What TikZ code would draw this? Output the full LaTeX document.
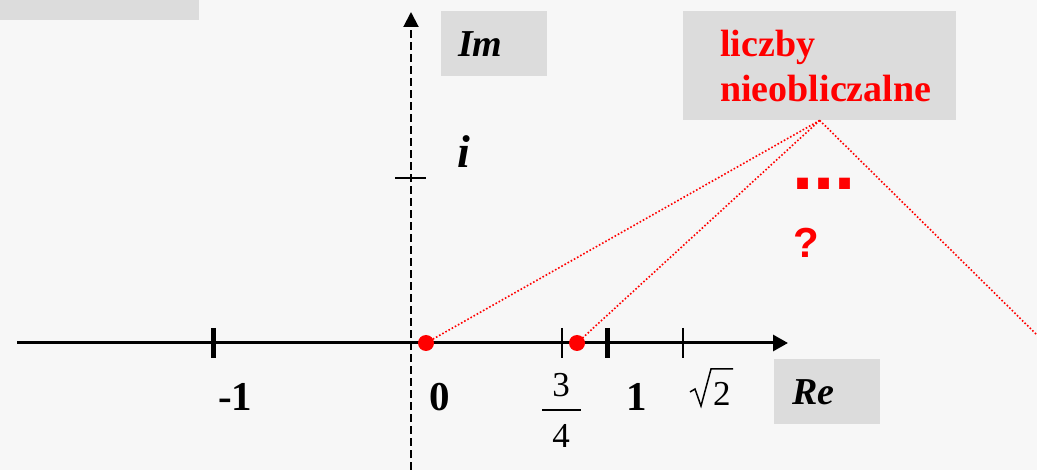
\documentclass[tikz,border=0pt]{standalone}
\usepackage{fontspec}
\setmainfont{Liberation Serif}
\newfontfamily\arialbf{Liberation Sans}[BoldFont={* Bold}]
\usetikzlibrary{arrows.meta}
\definecolor{bgc}{HTML}{F7F7F7}
\definecolor{boxc}{HTML}{DCDCDC}
\definecolor{redc}{HTML}{FF0000}
\tikzset{
  graybox/.style={fill=boxc, draw=none},
  lbl/.style={inner sep=0pt, anchor=base west},
  bigbi/.style={font=\fontsize{38}{44}\selectfont\bfseries\itshape},
  numb/.style={font=\fontsize{41}{44}\selectfont\bfseries},
  numr/.style={font=\fontsize{35}{40}\selectfont},
  reddot/.style={circle, fill=redc, inner sep=0pt, minimum size=16pt},
  redlink/.style={redc, dotted, line width=1.6pt},
  thicktick/.style={line width=5pt},
  thintick/.style={line width=2pt},
}
\begin{document}
\begin{tikzpicture}[x=1pt,y=-1pt]
\useasboundingbox (0,0) rectangle (1037,470);
\fill[bgc] (0,0) rectangle (1037,470);
% top-left clipped box
\fill[boxc] (0,0) rectangle (199,20);
% Im and Re boxes
\node[graybox, minimum width=106pt, minimum height=65pt, inner sep=0pt, anchor=north west] (imbox) at (441,11) {};
\node[lbl, bigbi] (im) at (458,57) {Im};
\node[graybox, minimum width=106pt, minimum height=65pt, inner sep=0pt, anchor=north west] (rebox) at (774,359) {};
\node[lbl, bigbi] (re) at (792,405) {Re};
% red label box
\node[graybox, minimum width=273pt, minimum height=109pt, inner sep=0pt, anchor=north west] (lbox) at (683,11) {};
\node[lbl, redc, font=\fontsize{38}{45}\selectfont\bfseries] (t1) at (720,57) {liczby};
\node[lbl, redc, font=\fontsize{38}{45}\selectfont\bfseries] (t2) at (720,102) {nieobliczalne};
% axes
\draw[line width=3pt, -{Triangle[length=15pt,width=16pt]}] (17,343) coordinate (xs) -- (788,343) coordinate (xe);
\draw[line width=2pt, dash pattern=on 8pt off 4pt, -{Triangle[length=15pt,width=15pt]}] (411,470) coordinate (ys) -- (411,12) coordinate (ye);
% ticks
\draw[thicktick] (213,328) -- (213,358);
\draw[thintick] (562,328) -- (562,358);
\draw[thicktick] (607,328) -- (607,358);
\draw[thintick] (683,328) -- (683,358);
\draw[thintick] (395,178) -- (426,178);
% labels
\node[lbl, numb] (m1) at (218,410) {-1};
\node[lbl, numb] (z0) at (429,410) {0};
\node[lbl, numb] (one) at (626,411) {1};
\node[inner sep=0pt, anchor=base, numr] (n3) at (561,397) {3};
\node[inner sep=0pt, anchor=base, numr] (n4) at (561,448) {4};
\draw[line width=1.5pt] (542,410) -- (581,410);
\node[lbl, numr] (two) at (713,406) {2};
\draw[line width=1.5pt, line join=miter] (690,392) -- (695,389) -- (701,406) -- (711,369) -- (733,369);
\node[lbl, font=\fontsize{46}{50}\selectfont\bfseries\itshape] (ii) at (457,168) {i};
% red dots and links
\node[reddot] (d1) at (426,343) {};
\node[reddot] (d2) at (577,343) {};
\coordinate (far) at (1037,335);
\draw[redlink] (lbox.south) -- (d1.center);
\draw[redlink] (lbox.south) -- (d2.center);
\draw[redlink] (lbox.south) -- (far);
\node[lbl, redc, font=\fontsize{76}{76}\selectfont\arialbf\bfseries] (dots) at (792,190) {...};
\node[lbl, redc, font=\fontsize{42}{42}\selectfont\arialbf\bfseries] (q) at (793,258) {?};
\end{tikzpicture}
\end{document}
